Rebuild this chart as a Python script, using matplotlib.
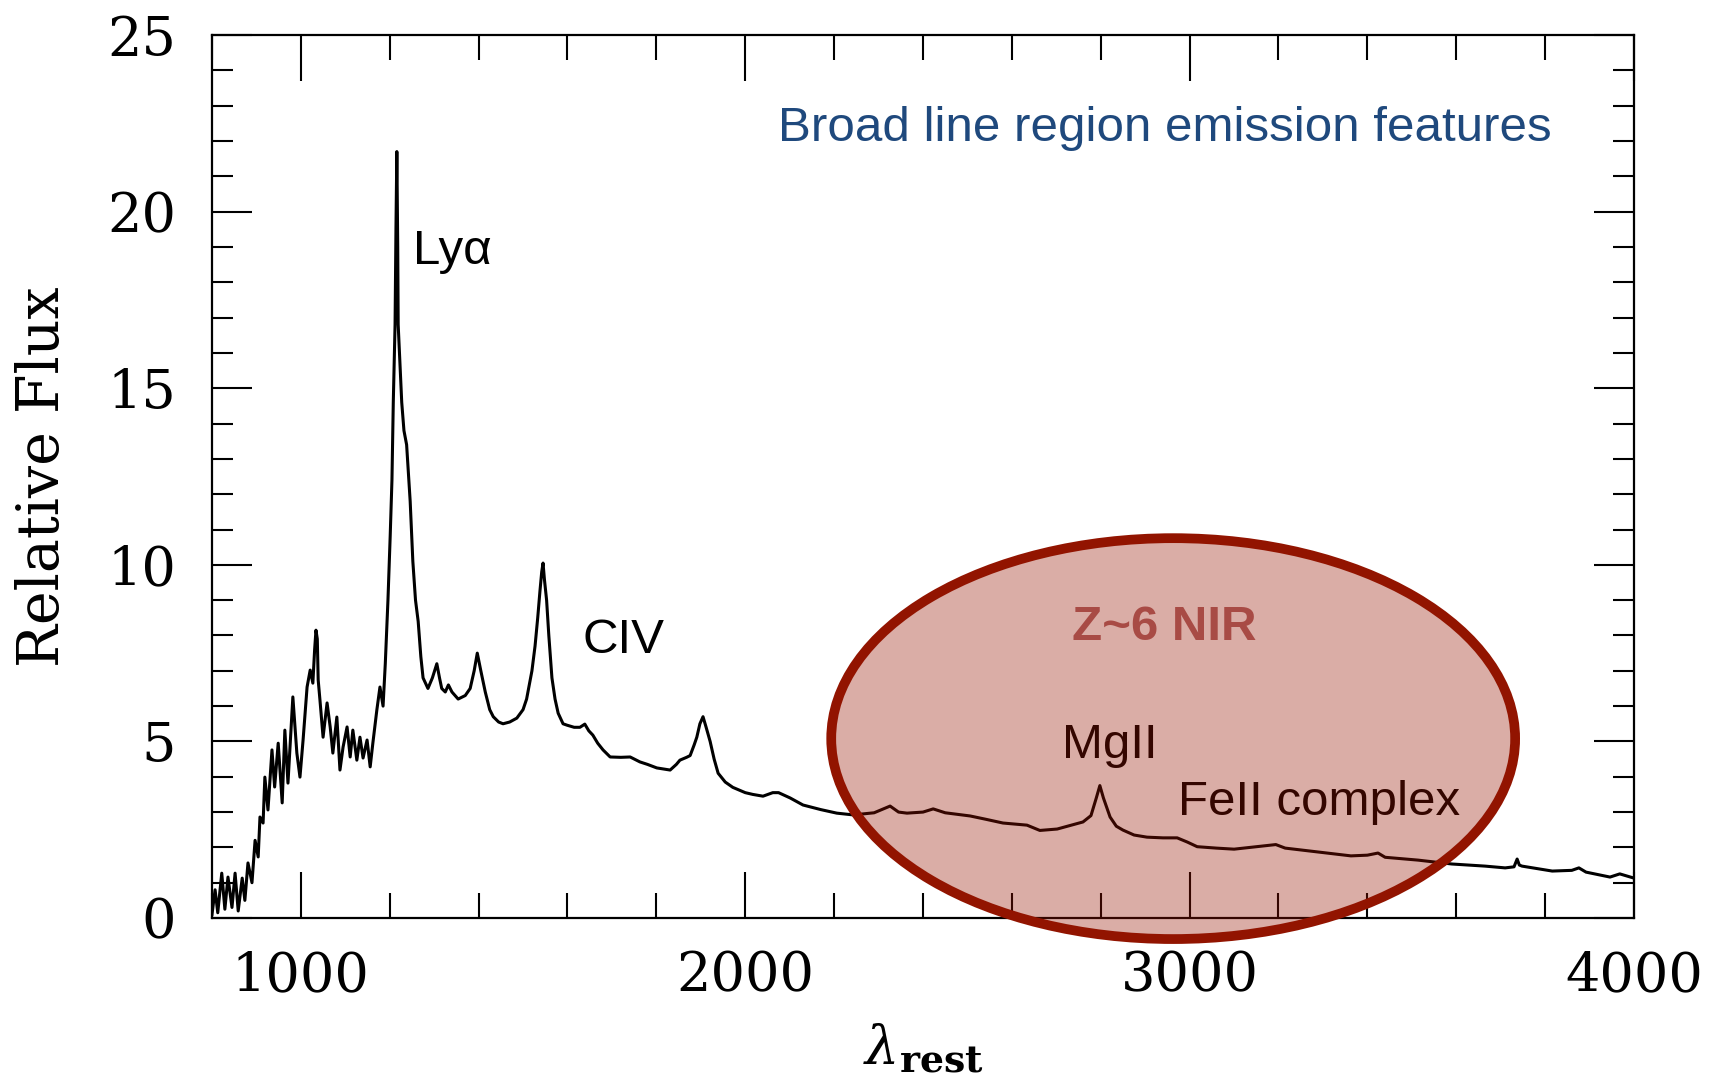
import matplotlib
matplotlib.use("Agg")
import matplotlib.pyplot as plt
from matplotlib.patches import Ellipse
from matplotlib.ticker import MultipleLocator

plt.rcParams['mathtext.fontset'] = 'dejavuserif'

# composite quasar spectrum
wave = [800, 807, 813, 822, 829, 836, 845, 852, 859, 868, 874, 881, 890, 897, 904,
        908, 915, 919, 926, 935, 941, 949, 958, 964, 971, 982, 991, 998, 1005, 1014,
        1021, 1027, 1031, 1034, 1037, 1039, 1043, 1050, 1059, 1066, 1072, 1081, 1088,
        1095, 1104, 1111, 1117, 1126, 1133, 1140, 1149, 1156, 1162, 1171, 1178, 1185,
        1190, 1196, 1201, 1205, 1208, 1212, 1214, 1216, 1218, 1219, 1223, 1227, 1232,
        1238, 1246, 1252, 1258, 1264, 1270, 1275, 1286, 1296, 1306, 1312, 1317, 1325,
        1332, 1340, 1354, 1370, 1381, 1390, 1397, 1405, 1415, 1425, 1433, 1445, 1455,
        1470, 1486, 1500, 1508, 1520, 1527, 1533, 1538, 1542, 1545, 1548, 1553, 1558,
        1565, 1572, 1579, 1590, 1599, 1615, 1628, 1639, 1648, 1657, 1668, 1680, 1696,
        1720, 1741, 1763, 1780, 1801, 1831, 1845, 1853, 1868, 1876, 1885, 1891, 1898,
        1905, 1912, 1921, 1930, 1939, 1955, 1972, 2000, 2017, 2040, 2062, 2075, 2101,
        2130, 2170, 2206, 2243, 2290, 2326, 2345, 2364, 2400, 2423, 2450, 2506, 2540,
        2580, 2634, 2663, 2702, 2740, 2760, 2778, 2790, 2798, 2806, 2821, 2835, 2850,
        2875, 2904, 2940, 2972, 2995, 3017, 3060, 3100, 3150, 3194, 3215, 3235, 3300,
        3363, 3400, 3424, 3440, 3514, 3590, 3665, 3710, 3730, 3737, 3742, 3748, 3816,
        3860, 3876, 3892, 3946, 3968, 4000]
flux = [0.1, 0.8, 0.15, 1.27, 0.25, 1.16, 0.3, 1.27, 0.2, 1.13, 0.5, 1.56, 1.0, 2.2, 1.73,
        2.86, 2.69, 3.99, 3.06, 4.76, 3.71, 4.95, 3.26, 5.32, 3.82, 6.26, 4.67, 3.99, 5.04, 6.54,
        7.02, 6.65, 7.6, 8.15, 7.9, 6.74, 6.17, 5.12, 6.09, 5.41, 4.67, 5.69, 4.19,
        4.84, 5.41, 4.56, 5.32, 4.47, 5.12, 4.53, 5.04, 4.28, 4.95, 5.89, 6.54, 6.0,
        7.2, 9.0, 10.8, 12.4, 14.6, 16.8, 19.5, 21.7, 19.0, 16.8, 15.7, 14.6, 13.8,
        13.4, 11.8, 10.1, 9.0, 8.4, 7.4, 6.8, 6.5, 6.8, 7.2, 6.8, 6.5, 6.4,
        6.6, 6.4, 6.2, 6.3, 6.5, 7.0, 7.5, 7.0, 6.4, 5.9, 5.7, 5.55, 5.5,
        5.55, 5.66, 5.9, 6.2, 7.0, 7.7, 8.5, 9.25, 9.8, 10.05, 9.6, 9.0, 8.0,
        6.8, 6.2, 5.8, 5.5, 5.46, 5.4, 5.4, 5.49, 5.3, 5.18, 4.95, 4.76, 4.56,
        4.55, 4.56, 4.42, 4.35, 4.25, 4.19, 4.35, 4.47, 4.55, 4.6, 4.9, 5.12, 5.5,
        5.7, 5.4, 5.0, 4.5, 4.1, 3.85, 3.7, 3.55, 3.5, 3.45, 3.55, 3.55, 3.4,
        3.2, 3.07, 2.97, 2.92, 2.98, 3.17, 3.0, 2.97, 3.0, 3.09, 2.98, 2.89, 2.8,
        2.69, 2.63, 2.48, 2.52, 2.65, 2.72, 2.9, 3.4, 3.75, 3.4, 2.86, 2.6, 2.49,
        2.35, 2.29, 2.27, 2.27, 2.15, 2.02, 1.98, 1.95, 2.02, 2.08, 1.98, 1.95, 1.85,
        1.76, 1.78, 1.84, 1.72, 1.64, 1.53, 1.47, 1.42, 1.45, 1.67, 1.5, 1.47, 1.33,
        1.35, 1.42, 1.3, 1.16, 1.25, 1.13]

x_ticks = [1000, 2000, 3000, 4000]
y_ticks = [0, 5, 10, 15, 20, 25]

sans = ['Liberation Sans', 'DejaVu Sans']
fs = 35.5

fig = plt.figure(figsize=(17.22, 10.84), dpi=100)
ax = fig.add_axes([0.1231, 0.1531, 0.8258, 0.8146])

ax.plot(wave, flux, color='black', lw=2.2, zorder=2)

ax.set_xlim(800, 4000)
ax.set_ylim(0, 25)
ax.set_xticks(x_ticks)
ax.set_yticks(y_ticks)
ax.xaxis.set_minor_locator(MultipleLocator(200))
ax.yaxis.set_minor_locator(MultipleLocator(1))
ax.tick_params(axis='both', which='both', direction='in', top=True, right=True,
               width=1.5, colors='black')
ax.tick_params(axis='x', which='major', length=33, pad=23)
ax.tick_params(axis='x', which='minor', length=18)
ax.tick_params(axis='y', which='major', length=29, pad=26)
ax.tick_params(axis='y', which='minor', length=15)
for lab in ax.get_xticklabels() + ax.get_yticklabels():
    lab.set_fontfamily('DejaVu Serif')
    lab.set_fontsize(39)
for sp in ax.spines.values():
    sp.set_linewidth(1.6)

ax.set_ylabel('Relative Flux', fontfamily='DejaVu Serif', fontsize=41, labelpad=26)
ax.set_xlabel(r'$\lambda_{\mathbf{rest}}$', fontsize=39, labelpad=14)

# labels that sit under the tinted ellipse get darkened by it
ax.text(1252, 18.53, 'Lyα', fontsize=fs, family=sans, color='black', va='baseline')
ax.text(1633, 7.5, 'CIV', fontsize=fs, family=sans, color='black', va='baseline')
ax.text(2821, 4.54, 'MgII', fontsize=fs, family=sans, color='black', va='baseline',
        ha='center', zorder=2)
ax.text(2974, 2.92, 'FeII complex', fontsize=fs, family=sans, color='black',
        va='baseline', zorder=2)

ax.text(2945, 22.0, 'Broad line region emission features', fontsize=fs, family=sans,
        color='#1F497D', ha='center', va='baseline')

fill = Ellipse((2963, 5.08), 1539, 11.35, facecolor='#961400', alpha=0.35,
               edgecolor='none', zorder=5, clip_on=False)
edge = Ellipse((2963, 5.08), 1539, 11.35, facecolor='none', edgecolor='#921400',
               lw=7, zorder=6, clip_on=False)
ax.add_patch(fill)
ax.add_patch(edge)

ax.text(2942, 7.87, 'Z~6 NIR', fontsize=fs, family=sans, fontweight='bold',
        color='#A84B45', ha='center', va='baseline', zorder=7)

fig.savefig('out.png', dpi=100)
